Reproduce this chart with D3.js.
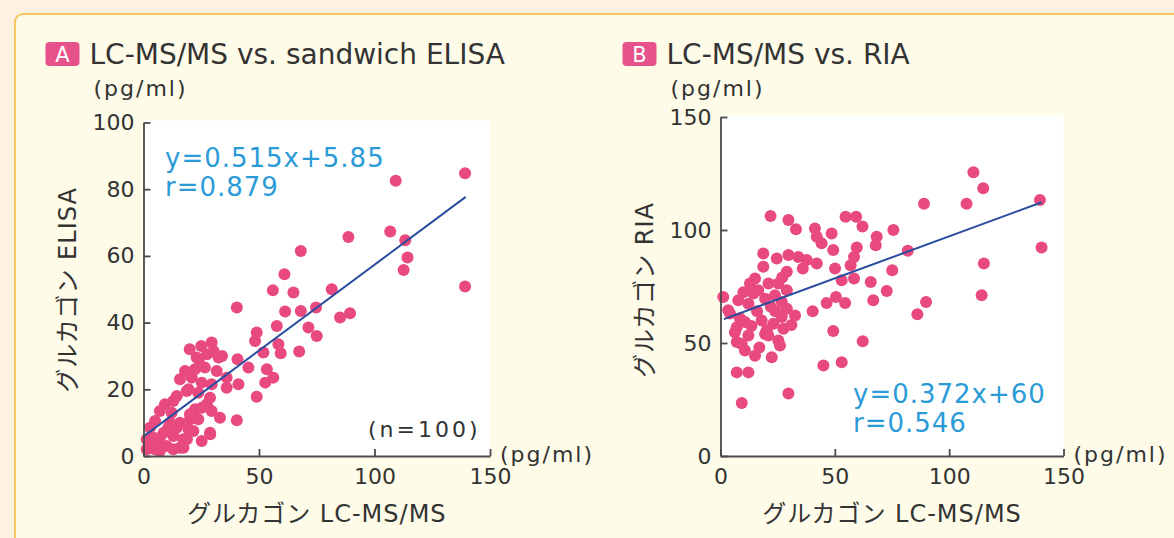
<!DOCTYPE html>
<html>
<head>
<meta charset="utf-8">
<script src="https://cdn.jsdelivr.net/npm/d3@7"></script>
<style>
	body { margin: 0; background: #fcf1e3; }
	svg { display: block; font-family: "DejaVu Sans", "Noto Sans CJK JP", sans-serif; }
</style>
</head>
<body>
<svg id="chart" width="1174" height="538"></svg>
<script>
// tick values
const xTicks = [0, 50, 100, 150];
const yTicksA = [0, 20, 40, 60, 80, 100];
const yTicksB = [0, 50, 100, 150];

// A: LC-MS/MS (x) vs sandwich ELISA (y), pg/ml
const elisaX = [139.2, 109.2, 139.2, 106.8, 113.3, 114.3, 112.6, 88.7, 68.1, 61, 56, 64.9, 81.5, 40.4, 61.3, 68.1, 74.7, 85.1, 89.4, 57.7,
	71.4, 75, 49, 48.3, 51.9, 58.4, 59.4, 67.4, 40.7, 45.4, 41.1, 53.4, 52.7, 56.2, 49, 40.4, 20, 25, 29.5, 34,
	27.5, 23, 15.8, 20, 26.6, 31.7, 36, 29.5, 23.7, 18.7, 28.8, 9.3, 12.9, 7.1, 12.2, 20.1, 25.2, 29.5, 5, 15.8,
	23.7, 21.6, 28.8, 2.8, 10.7, 1.4, 7.1, 12.9, 17.2, 25.2, 3.5, 10, 15.8, 1.4, 7.1, 12.9, 33.1, 32.5, 22.3, 18,
	20.9, 25.2, 19.5, 14.4, 27.4, 22.3, 20.2, 11.5, 14.4, 19.5, 28.9, 8.7, 18.8, 6.5, 4.3, 5, 17.3, 30.3, 24, 36];
const elisaY = [84.8, 82.5, 50.8, 67.3, 64.7, 59.5, 55.8, 65.7, 61.5, 54.5, 49.7, 49, 50, 44.5, 43.3, 43.5, 44.5, 41.5, 42.8, 39,
	38.5, 36, 37, 34.5, 31, 33.5, 30.8, 31.3, 29, 26.5, 21.5, 26, 22, 23.5, 17.8, 10.7, 32, 33, 34, 30,
	30.5, 29.5, 23, 25, 26.5, 25.5, 23.5, 21.5, 19, 19.5, 17.5, 15.5, 16.5, 13.5, 13, 12.5, 14.5, 13.5, 10.5, 10,
	11, 7.5, 7, 8.5, 8.5, 5, 5.5, 6, 5, 4.5, 3, 3, 2.5, 2, 1.5, 2, 11.5, 29.5, 26, 25.5,
	23.5, 22, 20, 18, 15.5, 14, 11, 10, 8.5, 8, 6.5, 7, 5, 4, 5.5, 2, 2.5, 31.5, 29, 20.5];

// B: LC-MS/MS (x) vs RIA (y), pg/ml
const riaX = [110.6, 114.9, 107.6, 89, 139.7, 140.4, 115.2, 114.2, 89.9, 86.1, 81.9, 75.6, 75.1, 72.7, 66.8, 65.7, 68.3, 67.9, 62.1, 59.3,
	54.7, 59.6, 58.4, 56.9, 58.4, 53, 50.1, 49.3, 48.6, 41.3, 42.1, 44.2, 42.1, 50.5, 54.5, 46.4, 40.3, 49.3, 62.2, 53,
	45, 29.7, 9.3, 7.1, 12.2, 21.9, 29.7, 33, 18.7, 18.7, 24.6, 29.7, 34, 37.7, 29, 1.2, 7.8, 12.9, 16.5, 15.1,
	21, 25.3, 19.5, 12.2, 4.2, 7.1, 10.7, 12.2, 9.3, 10.7, 15.1, 22.4, 26.8, 29, 32.6, 26.8, 23.1, 20.2, 27.5, 25.3,
	20.9, 26, 6.3, 7.1, 19.5, 29, 14.4, 23.8, 18, 3.4, 31, 16, 22, 8.5, 13.5, 36, 27, 17, 10, 24];
const riaY = [125.6, 118.5, 111.6, 111.6, 113.3, 92.3, 85.2, 71.1, 68.1, 62.7, 90.8, 100, 82.2, 73, 68.9, 77, 97, 93.3, 101.5, 105.9,
	105.9, 92.3, 88.1, 84.4, 78.5, 77.8, 83, 91.1, 98.5, 100.7, 97, 94.1, 85.2, 70.4, 67.7, 67.7, 64.1, 55.3, 50.8, 41.5,
	40, 27.7, 23.4, 37, 37, 106.2, 104.4, 100.3, 89.6, 83.7, 87.4, 88.9, 88.1, 86.7, 81.5, 70.4, 68.9, 76.3, 73.3, 78.5,
	76.3, 76.3, 69.6, 67.4, 63, 57, 59.3, 53.3, 49.6, 46.7, 44.4, 43.7, 68.1, 65.2, 62.2, 61.5, 58.5, 55.6, 56.3, 51.1,
	53.3, 48.9, 54.8, 50.4, 54, 73.3, 71.9, 71.1, 60, 64.5, 58, 64, 66, 61, 57.5, 83, 79, 48, 72.5, 64];

// regression lines: slope, intercept, x range covered
const fitA = [0.515, 5.85, 0.5, 139.5];
const fitB = [0.372, 60, 1.5, 140.5];

const svg = d3.select("#chart");

// page background and the framed box
svg.append("rect")
	.attr("width", 1174)
	.attr("height", 538)
	.attr("fill", "#fcf1e3");
svg.append("rect")
	.attr("x", 15)
	.attr("y", 14)
	.attr("width", 1300)
	.attr("height", 700)
	.attr("rx", 8)
	.attr("fill", "#fffbe9")
	.attr("stroke", "#f7c660")
	.attr("stroke-width", 2);

function createPanel(p) {
	let x = d3.scaleLinear().domain([0, 150]).range([p.left, p.right]);
	let y = d3.scaleLinear().domain([0, p.yMax]).range([p.bottom, p.top]);

	svg.append("rect")
		.attr("x", p.left)
		.attr("y", p.top - 2)
		.attr("width", p.right - p.left)
		.attr("height", p.bottom - p.top + 2)
		.attr("fill", "white");

	svg.append("g")
		.selectAll("circle")
		.data(d3.zip(p.xs, p.ys))
		.join("circle")
		.attr("cx", (d) => x(d[0]))
		.attr("cy", (d) => y(d[1]))
		.attr("r", 6)
		.attr("fill", "#e84a80");

	svg.append("line")
		.attr("x1", x(p.fit[2]))
		.attr("y1", y(p.fit[0] * p.fit[2] + p.fit[1]))
		.attr("x2", x(p.fit[3]))
		.attr("y2", y(p.fit[0] * p.fit[3] + p.fit[1]))
		.attr("stroke", "#2b4d9e")
		.attr("stroke-width", 2);

	let gx = svg.append("g")
		.attr("transform", "translate(0," + p.bottom + ")")
		.call(d3.axisBottom(x).tickValues(xTicks).tickSizeInner(-7).tickSizeOuter(0).tickPadding(12));
	let gy = svg.append("g")
		.attr("transform", "translate(" + p.left + ",0)")
		.call(d3.axisLeft(y).tickValues(p.yTicks).tickSizeInner(-7).tickSizeOuter(0).tickPadding(9));

	[gx, gy].forEach((g) => {
		g.attr("font-family", null).attr("font-size", 22);
		g.selectAll("path, line").attr("stroke", "#4a4a4a").attr("stroke-width", 1.8);
		g.selectAll("text").attr("fill", "#333");
	});

	// title with badge
	svg.append("rect")
		.attr("x", p.left - 98)
		.attr("y", 42)
		.attr("width", 34)
		.attr("height", 24)
		.attr("rx", 4)
		.attr("fill", "#e8528a");
	svg.append("text")
		.attr("x", p.left - 81)
		.attr("y", 62)
		.attr("text-anchor", "middle")
		.attr("font-size", 21)
		.attr("fill", "white")
		.text(p.badge);
	svg.append("text")
		.attr("x", p.left - 54)
		.attr("y", 64)
		.attr("font-size", 28)
		.attr("fill", "#333")
		.text(p.title);

	// units
	svg.append("text")
		.attr("x", p.left - 50)
		.attr("y", 96)
		.attr("font-size", 22)
		.attr("letter-spacing", 2)
		.attr("fill", "#333")
		.text("(pg/ml)");
	svg.append("text")
		.attr("x", p.right + 10)
		.attr("y", p.bottom + 6)
		.attr("font-size", 22)
		.attr("letter-spacing", 2)
		.attr("fill", "#333")
		.text("(pg/ml)");

	// axis titles
	svg.append("text")
		.attr("x", (p.left + p.right) / 2)
		.attr("y", 522)
		.attr("text-anchor", "middle")
		.attr("font-size", 24)
		.attr("letter-spacing", 1)
		.attr("fill", "#333")
		.text("グルカゴン LC-MS/MS");
	svg.append("text")
		.attr("transform", "translate(" + (p.left - 68) + ",290) rotate(-90)")
		.attr("text-anchor", "middle")
		.attr("font-size", 24)
		.attr("letter-spacing", 1)
		.attr("fill", "#333")
		.text(p.yLabel);

	// equation
	p.eq.forEach((t, i) => {
		svg.append("text")
			.attr("x", p.eqX)
			.attr("y", p.eqY + i * 29)
			.attr("font-size", 26)
			.attr("letter-spacing", 1)
			.attr("fill", "#2b9bd8")
			.text(t);
	});
}

createPanel({
	left: 143.5, right: 490, top: 122.5, bottom: 456,
	yMax: 100, yTicks: yTicksA, xs: elisaX, ys: elisaY, fit: fitA,
	badge: "A", title: "LC-MS/MS vs. sandwich ELISA", yLabel: "グルカゴン ELISA",
	eq: ["y=0.515x+5.85", "r=0.879"], eqX: 165, eqY: 167,
});

createPanel({
	left: 720.5, right: 1063.5, top: 117, bottom: 456,
	yMax: 150, yTicks: yTicksB, xs: riaX, ys: riaY, fit: fitB,
	badge: "B", title: "LC-MS/MS vs. RIA", yLabel: "グルカゴン RIA",
	eq: ["y=0.372x+60", "r=0.546"], eqX: 853, eqY: 403,
});

svg.append("text")
	.attr("x", 368)
	.attr("y", 437)
	.attr("font-size", 22)
	.attr("letter-spacing", 3)
	.attr("fill", "#333")
	.text("(n=100)");
</script>
</body>
</html>
